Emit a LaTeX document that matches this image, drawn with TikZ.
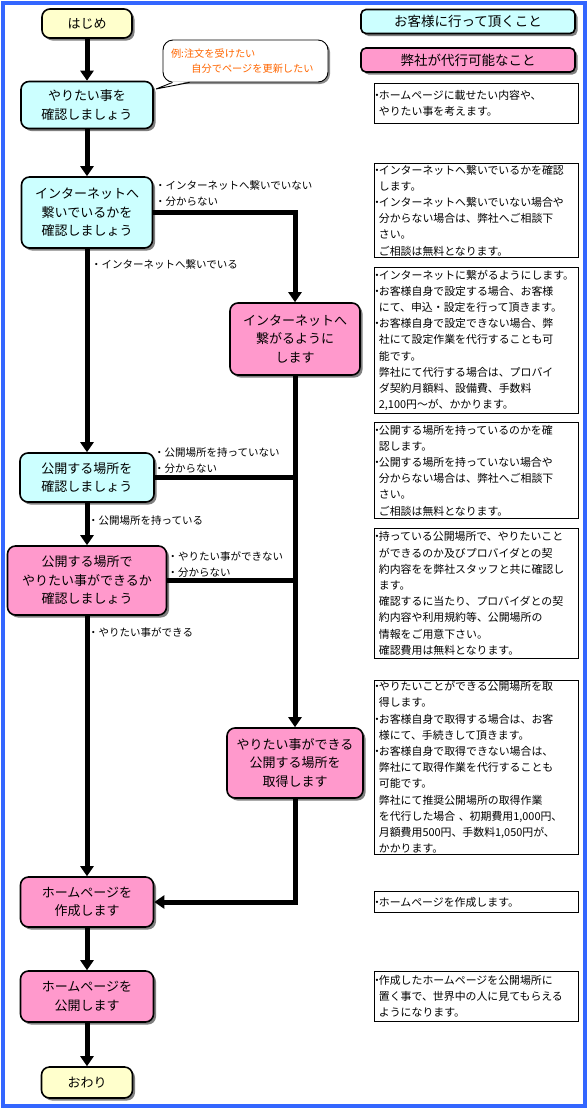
\documentclass[tikz,border=0pt]{standalone}
\usepackage{fontspec}
\setmainfont{Noto Sans CJK JP}
\usepackage{tikz}
\usetikzlibrary{positioning,arrows.meta,shadows}
\usepackage{xcolor}

\definecolor{custcyan}{HTML}{CCFFFF}
\definecolor{ourpink}{HTML}{FF99CC}
\definecolor{termyellow}{HTML}{FFFFCC}
\definecolor{frameblue}{HTML}{3366FF}
\definecolor{memoorange}{HTML}{FF6600}

\newcommand{\boxfont}{\fontsize{13}{18.5}\selectfont}
\newcommand{\legendfont}{\fontsize{13.5}{16}\selectfont}
\newcommand{\memofont}{\fontsize{10.9}{16.2}\selectfont}
\newcommand{\branchfont}{\fontsize{10.5}{16}\selectfont}
\newcommand{\calloutfont}{\fontsize{10.2}{15}\selectfont}
\newcommand{\dotmark}{\makebox[0pt][r]{・\kern-3.5pt}}

\begin{document}
\begin{tikzpicture}[x=1pt, y=-1pt,
  flowbox/.style={draw, line width=1.6pt, rounded corners=8pt, align=center, font=\boxfont, inner sep=2pt,
    drop shadow={shadow xshift=2.5pt, shadow yshift=-2.5pt, fill=black!50, opacity=1}},
  custbox/.style={flowbox, fill=custcyan},
  ourbox/.style={flowbox, fill=ourpink},
  termbox/.style={flowbox, fill=termyellow},
  legendbox/.style={flowbox, rounded corners=5pt, font=\legendfont, minimum width=214pt, minimum height=24pt},
  memo/.style={draw, line width=0.8pt, anchor=north west, align=left, font=\memofont, inner xsep=4.5pt, inner ysep=1pt, text width=195pt},
  branch/.style={anchor=west, align=left, font=\branchfont, inner sep=0pt},
  flow/.style={line width=5pt, -{Triangle[width=13pt,length=10pt]}},
  feed/.style={line width=5pt}
]
\useasboundingbox (0,0) rectangle (588,1109);
% frame
\draw[frameblue, line width=3.5pt] (3,3) rectangle (585,1106);

% legend
\node[legendbox, fill=custcyan] (legcust) at (468,21.5) {お客様に行って頂くこと};
\node[legendbox, fill=ourpink] (legour) at (468,60) {弊社が代行可能なこと};

% steps
\node[termbox, minimum width=90pt, minimum height=29pt] (start) at (87,23.5) {はじめ};
\node[custbox, minimum width=132pt, minimum height=47pt] (want) at (87,105) {やりたい事を\\確認しましょう};
\node[custbox, minimum width=131pt, minimum height=71pt] (net) at (87,212.5) {インターネットへ\\繋いでいるかを\\確認しましょう};
\node[ourbox, minimum width=130pt, minimum height=72pt] (netset) at (295,339) {インターネットへ\\繋がるように\\します};
\node[custbox, minimum width=134pt, minimum height=49pt] (place) at (87,477.5) {公開する場所を\\確認しましょう};
\node[ourbox, minimum width=159pt, minimum height=69pt] (check) at (87,580.5) {公開する場所で\\やりたい事ができるか\\確認しましょう};
\node[ourbox, minimum width=136pt, minimum height=70pt] (getplace) at (295,763) {やりたい事ができる\\公開する場所を\\取得します};
\node[ourbox, minimum width=133pt, minimum height=50pt] (make) at (87,902) {ホームページを\\作成します};
\node[ourbox, minimum width=133pt, minimum height=51pt] (publish) at (87,996.5) {ホームページを\\公開します};
\node[termbox, minimum width=91pt, minimum height=31pt] (finish) at (87,1082.5) {おわり};

% callout
\node[draw, line width=0.9pt, fill=white, rounded corners=10pt, minimum width=165pt, minimum height=42pt,
  text width=149pt, inner xsep=8pt, align=left, font=\calloutfont, text=memoorange,
  drop shadow={shadow xshift=2pt, shadow yshift=-2pt, fill=black!45, opacity=1}] (callout) at (245.5,61)
  {例:注文を受けたい\\\hspace*{2em}自分でページを更新したい};
\coordinate (calltip) at (156,89);
\fill[white] ([xshift=10pt,yshift=1.2pt]callout.south west) -- (calltip) -- ([xshift=27pt,yshift=1.2pt]callout.south west) -- cycle;
\draw[line width=0.9pt] ([xshift=10pt]callout.south west) -- (calltip) -- ([xshift=27pt]callout.south west);

% main flow
\draw[flow] (start) -- (want);
\draw[flow] (want) -- (net);
\draw[flow] (net) -- (place);
\draw[flow] (place) -- (check);
\draw[flow] (check) -- (make);
\draw[flow] (make) -- (publish);
\draw[flow] (publish) -- (finish);
% side route
\draw[flow] (net.east) -| (netset.north);
\draw[flow] (netset) -- (getplace);
\draw[feed] (place.east) -- (place.east -| netset.south);
\draw[feed] (check.east) -- (check.east -| netset.south);
\draw[flow] (getplace.south) |- (make.east);

% branch labels
\node[branch] (lblnetno) at (155,193.5) {・インターネットへ繋いでいない\\・分からない};
\node[branch] (lblnetyes) at (91,265) {・インターネットへ繋いでいる};
\node[branch] (lblplaceno) at (154,460.5) {・公開場所を持っていない\\・分からない};
\node[branch] (lblplaceyes) at (88,521) {・公開場所を持っている};
\node[branch] (lblcheckno) at (167.5,564.5) {・やりたい事ができない\\・分からない};
\node[branch] (lblcheckyes) at (88,632) {・やりたい事ができる};

% notes
\node[memo, minimum height=40pt] (memowant) at (374,83)
  {\dotmark{}ホームページに載せたい内容や、\\やりたい事を考えます。};
\node[memo, minimum height=94pt] (memonet) at (374,163)
  {\dotmark{}インターネットへ繋いでいるかを確認\\します。\\\dotmark{}インターネットへ繋いでいない場合や\\分からない場合は、弊社へご相談下\\さい。\\ご相談は無料となります。};
\node[memo, minimum height=146pt] (memonetset) at (374,267)
  {\dotmark{}インターネットに繋がるようにします。\\\dotmark{}お客様自身で設定する場合、お客様\\にて、申込・設定を行って頂きます。\\\dotmark{}お客様自身で設定できない場合、弊\\社にて設定作業を代行することも可\\能です。\\弊社にて代行する場合は、プロバイ\\ダ契約月額料、設備費、手数料\\2,100円～が、かかります。};
\node[memo, minimum height=96pt] (memoplace) at (374,422)
  {\dotmark{}公開する場所を持っているのかを確\\認します。\\\dotmark{}公開する場所を持っていない場合や\\分からない場合は、弊社へご相談下\\さい。\\ご相談は無料となります。};
\node[memo, minimum height=130pt] (memocheck) at (374,528)
  {\dotmark{}持っている公開場所で、やりたいこと\\ができるのか及びプロバイダとの契\\約内容をを弊社スタッフと共に確認し\\ます。\\確認するに当たり、プロバイダとの契\\約内容や利用規約等、公開場所の\\情報をご用意下さい。\\確認費用は無料となります。};
\node[memo, minimum height=173pt] (memogetplace) at (374,680)
  {\dotmark{}やりたいことができる公開場所を取\\得します。\\\dotmark{}お客様自身で取得する場合は、お客\\様にて、手続きして頂きます。\\\dotmark{}お客様自身で取得できない場合は、\\弊社にて取得作業を代行することも\\可能です。\\弊社にて推奨公開場所の取得作業\\を代行した場合 、初期費用1,000円、\\月額費用500円、手数料1,050円が、\\かかります。};
\node[memo, minimum height=21pt] (memomake) at (374,891)
  {\dotmark{}ホームページを作成します。};
\node[memo, minimum height=50pt] (memopublish) at (374,971)
  {\dotmark{}作成したホームページを公開場所に\\置く事で、世界中の人に見てもらえる\\ようになります。};
\end{tikzpicture}
\end{document}
